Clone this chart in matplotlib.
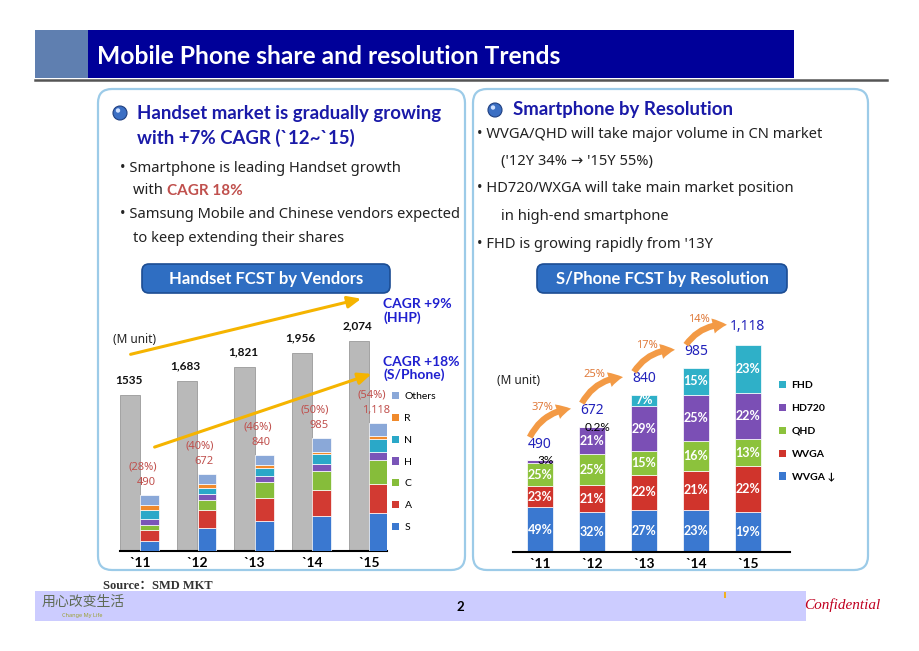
import numpy as np
import matplotlib
matplotlib.use("Agg")
import matplotlib.pyplot as plt
from matplotlib.patches import Rectangle, FancyBboxPatch, Circle, Patch

plt.rcParams['font.family'] = ['Noto Sans', 'DejaVu Sans']
BOLD = ["Lato", "DejaVu Sans"]   # Noto Sans has no bold face here

# ---- data ----
years = ["`11", "`12", "`13", "`14", "`15"]

handset_total = [1535, 1683, 1821, 1956, 2074]
handset_labels = ["1535", "1,683", "1,821", "1,956", "2,074"]
sphone_total = [490, 672, 840, 985, 1118]
sphone_labels = ["490", "672", "840", "985", "1,118"]
sphone_share = ["(28%)", "(40%)", "(46%)", "(50%)", "(54%)"]

# smartphone units by vendor (M unit)
vendors = ["S", "A", "C", "H", "N", "R", "Others"]
s_units = [84, 203, 265, 302, 330]
a_units = [98, 150, 201, 230, 252]
c_units = [42, 93, 132, 167, 215]
h_units = [56, 48, 55, 58, 63]
n_units = [76, 56, 66, 86, 115]
r_units = [45, 34, 29, 20, 29]
others_units = [89, 88, 92, 122, 114]
vendor_colors = ["#3a78d0", "#d23a32", "#86bd3a", "#7a55b8", "#2aa8c8", "#f08a2c", "#8aa8d8"]

# smartphone share by resolution (%)
res_names = ["WVGA ↓", "WVGA", "QHD", "HD720", "FHD"]
wvga_low = [49, 32, 27, 23, 19]
wvga = [23, 21, 22, 21, 22]
qhd = [25, 25, 15, 16, 13]
hd720 = [3, 21, 29, 25, 22]
fhd = [0, 0.2, 7, 15, 23]
res_colors = ["#3a78d0", "#d0342c", "#8cc23c", "#7b4fb5", "#2fb0c8"]
growth = ["37%", "25%", "17%", "14%"]

W, H = 920, 651
fig = plt.figure(figsize=(W / 100, H / 100), dpi=100)
fig.patch.set_facecolor("white")

# background axes in pixel units for slide decoration
bg = fig.add_axes([0, 0, 1, 1], zorder=0)
bg.set_xlim(0, W)
bg.set_ylim(H, 0)
bg.axis("off")

# title band
bg.add_patch(Rectangle((35, 30), 53, 48, facecolor="#5f7fb0", edgecolor="none"))
bg.add_patch(Rectangle((88, 30), 706, 48, facecolor="#000099", edgecolor="none"))
bg.text(97, 57, "Mobile Phone share and resolution Trends", color="white",
        fontsize=17.7, fontweight="bold", va="center", family=BOLD)
bg.plot([35, 887], [80, 80], color="#555555", lw=1.8)

# panels
for x0, x1 in [(98, 465), (473, 868)]:
    bg.add_patch(FancyBboxPatch((x0, 89), x1 - x0, 481,
                                boxstyle="round,pad=0,rounding_size=14",
                                facecolor="white", edgecolor="#9ccbe8", lw=1.6))

blue_txt = "#1a1aa8"
for cx, cy in [(120, 113), (495, 110)]:
    bg.add_patch(Circle((cx, cy), 7, facecolor="#3b6fc4", edgecolor="#1f3f80", lw=0.8))
    bg.add_patch(Circle((cx - 2, cy - 2.5), 2.2, facecolor="#cfe0ff", edgecolor="none"))

head = dict(color=blue_txt, fontsize=13.4, fontweight="bold", va="center", family=BOLD)
body = dict(fontsize=10.6, color="#222222", va="center")

# left panel text
bg.text(137, 113, "Handset market is gradually growing", **head)
bg.text(137, 138, "with +7% CAGR (`12~`15)", **head)
bg.text(120, 168, "• Smartphone is leading Handset growth", **body)
bg.text(133, 191, "with ", **body)
bg.text(167, 191, "CAGR 18%", fontsize=11, color="#c0504d", fontweight="bold",
        va="center", family=BOLD)
bg.text(120, 215, "• Samsung Mobile and Chinese vendors expected", **body)
bg.text(133, 239, "to keep extending their shares", **body)

# right panel text
bg.text(513, 110, "Smartphone by Resolution", **head)
bg.text(477, 134, "• WVGA/QHD will take major volume in CN market", **body)
bg.text(501, 162, "('12Y 34% → '15Y 55%)", **body)
bg.text(477, 189, "• HD720/WXGA will take main market position", **body)
bg.text(501, 217, "in high-end smartphone", **body)
bg.text(477, 245, "• FHD is growing rapidly from '13Y", **body)

# chart header pills
for x0, x1, label in [(142, 390, "Handset FCST by Vendors"),
                      (537, 787, "S/Phone FCST by Resolution")]:
    bg.add_patch(FancyBboxPatch((x0, 264), x1 - x0, 29,
                                boxstyle="round,pad=0,rounding_size=7",
                                facecolor="#2f6ec2", edgecolor="#1c4d93", lw=1.2))
    bg.text((x0 + x1) / 2, 279, label, color="white", fontsize=12,
            fontweight="bold", ha="center", va="center", family=BOLD)

# footer
bg.text(103, 586, "Source：SMD MKT", fontsize=9, color="#333333", va="center",
        fontweight="bold", family=["Liberation Serif", "Noto Sans CJK SC"])
bg.add_patch(Rectangle((35, 591), 771, 30, facecolor="#ccccff", edgecolor="none"))
bg.add_patch(Rectangle((724, 592), 2, 6, facecolor="#f0b020", edgecolor="none"))
bg.text(460, 607, "2", fontsize=9.5, fontweight="bold", ha="center", va="center", family=BOLD)
bg.text(42, 602, "用心改变生活", fontsize=10, color="#5f6b55", style="italic",
        va="center", family=["Noto Sans CJK SC", "DejaVu Sans"])
bg.text(62, 615, "Change My Life", fontsize=4, color="#9aa030", va="center")
bg.text(880, 605, "Confidential", fontsize=11, color="#c00020", style="italic",
        ha="right", va="center", family=["Liberation Serif", "DejaVu Serif"])


def px_axes(left, right, base, top):
    return fig.add_axes([left / W, (H - base) / H, (right - left) / W, (base - top) / H],
                        zorder=2)


x = np.arange(len(years))

# ---- left chart: handset by vendors ----
ax1 = px_axes(120, 387, 551, 318)
ax1.set_facecolor("none")
ax1.set_xlim(-0.348, 4.313)
ax1.set_ylim(0, 2300)
ax1.bar(x - 0.175, handset_total, width=0.35, color="#b9b9b9", edgecolor="#9a9a9a", lw=0.6)

# the slide draws the smartphone stack on its own (slightly larger) scale
ax1b = ax1.twinx()
ax1b.set_ylim(0, 2030)
ax1b.set_yticks([])
ax1b.axis("off")
vendor_data = [s_units, a_units, c_units, h_units, n_units, r_units, others_units]
bottom = np.zeros(len(years))
handles1 = []
for name, vals, col in zip(vendors, vendor_data, vendor_colors):
    ax1b.bar(x + 0.17, vals, width=0.33, bottom=bottom, color=col,
             edgecolor="white", lw=0.5)
    bottom += vals
    handles1.append(Patch(facecolor=col, label=name))

for i in x:
    ax1.text(i - 0.2, handset_total[i] + 90, handset_labels[i], ha="center", va="bottom",
             fontsize=8.5, fontweight="bold", color="#111111", family=BOLD, clip_on=False)
    ax1b.text(i + 0.05, sphone_total[i] + 240, sphone_share[i], ha="center", va="center",
              fontsize=8, color="#c0504d", clip_on=False)
    ax1b.text(i + 0.12, sphone_total[i] + 105, sphone_labels[i], ha="center", va="center",
              fontsize=8, color="#c0504d", clip_on=False)

ax1.annotate("", xy=(3.91, 2497), xytext=(-0.21, 1935), annotation_clip=False,
             arrowprops=dict(arrowstyle="-|>,head_width=0.35,head_length=0.8",
                             color="#f5b400", lw=2.2))
ax1.annotate("", xy=(4.09, 1757), xytext=(0.21, 1017), annotation_clip=False,
             arrowprops=dict(arrowstyle="-|>,head_width=0.35,head_length=0.8",
                             color="#f5b400", lw=2.2))
ax1.text(-0.1, 2050, "(M unit)", fontsize=8.5, color="#222222", ha="center", clip_on=False)
ax1.text(4.25, 2370, "CAGR +9%\n(HHP)", fontsize=10, fontweight="bold", color="#2020d0",
         va="center", linespacing=1.05, family=BOLD, clip_on=False)
ax1.text(4.25, 1800, "CAGR +18%\n(S/Phone)", fontsize=10, fontweight="bold", color="#2020d0",
         va="center", linespacing=1.05, family=BOLD, clip_on=False)

ax1.set_xticks(x)
ax1.set_xticklabels(years, fontsize=10, fontweight="bold", family=BOLD)
ax1.tick_params(axis="x", length=0, pad=4)
ax1.set_yticks([])
for sp in ["top", "right", "left"]:
    ax1.spines[sp].set_visible(False)
ax1.spines["bottom"].set_linewidth(1.5)
fig.legend(handles=handles1[::-1], loc="upper left", bbox_to_anchor=(392 / W, 1 - 392 / H),
           frameon=False, prop=dict(size=7.5, family=BOLD), handlelength=0.7,
           handleheight=0.7, labelspacing=1.2, handletextpad=0.5, borderpad=0,
           borderaxespad=0)

# ---- right chart: smartphone by resolution ----
ax2 = px_axes(513, 790, 552, 290)
ax2.set_facecolor("none")
ax2.set_xlim(-0.52, 4.81)
ax2.set_ylim(0, 1400)
res_data = [wvga_low, wvga, qhd, hd720, fhd]
bottom = np.zeros(len(years))
handles2 = []
for name, shares, col in zip(res_names, res_data, res_colors):
    vals = np.array(sphone_total) * np.array(shares) / 100.0
    ax2.bar(x, vals, width=0.5, bottom=bottom, color=col, edgecolor="white", lw=0.5)
    for i in x:
        if shares[i] >= 5:
            ax2.text(i, bottom[i] + vals[i] / 2, f"{shares[i]:g}%", ha="center", va="center",
                     fontsize=9, fontweight="bold", color="white", family=BOLD)
        elif shares[i] > 0:
            ax2.text(i + 0.1, bottom[i] + vals[i], f"{shares[i]:g}%", ha="center",
                     va="center", fontsize=8.5, color="black", family=BOLD)
    bottom += vals
    handles2.append(Patch(facecolor=col, label=name))

for i in x:
    ax2.text(i, sphone_total[i] + 45, sphone_labels[i], ha="center", va="bottom",
             fontsize=10, color="#2222bb", clip_on=False)
for i, g in enumerate(growth):
    y0 = sphone_total[i] + 110
    y1 = sphone_total[i + 1] + 95
    ax2.annotate("", xy=(i + 0.65, y1), xytext=(i - 0.22, y0), annotation_clip=False,
                 arrowprops=dict(arrowstyle="simple,head_width=1.1,head_length=1.0,tail_width=0.45",
                                 connectionstyle="arc3,rad=-0.3", color="#f39a45", lw=0))
    ax2.text(i + 0.05, (y0 + y1) / 2 + 90, g, ha="center", va="center",
             fontsize=8, color="#e07a3a", clip_on=False)
ax2.text(-0.42, 914, "(M unit)", fontsize=8.5, color="#222222", ha="center", va="center",
         clip_on=False)

ax2.set_xticks(x)
ax2.set_xticklabels(years, fontsize=10, fontweight="bold", family=BOLD)
ax2.tick_params(axis="x", length=0, pad=4)
ax2.set_yticks([])
for sp in ["top", "right", "left"]:
    ax2.spines[sp].set_visible(False)
ax2.spines["bottom"].set_linewidth(1.5)
fig.legend(handles=handles2[::-1], loc="upper left", bbox_to_anchor=(779 / W, 1 - 381 / H),
           frameon=False, prop=dict(size=7.5, weight="bold", family=BOLD), handlelength=0.7,
           handleheight=0.7, labelspacing=1.3, handletextpad=0.5, borderpad=0,
           borderaxespad=0)

fig.savefig("out.png", dpi=100)
